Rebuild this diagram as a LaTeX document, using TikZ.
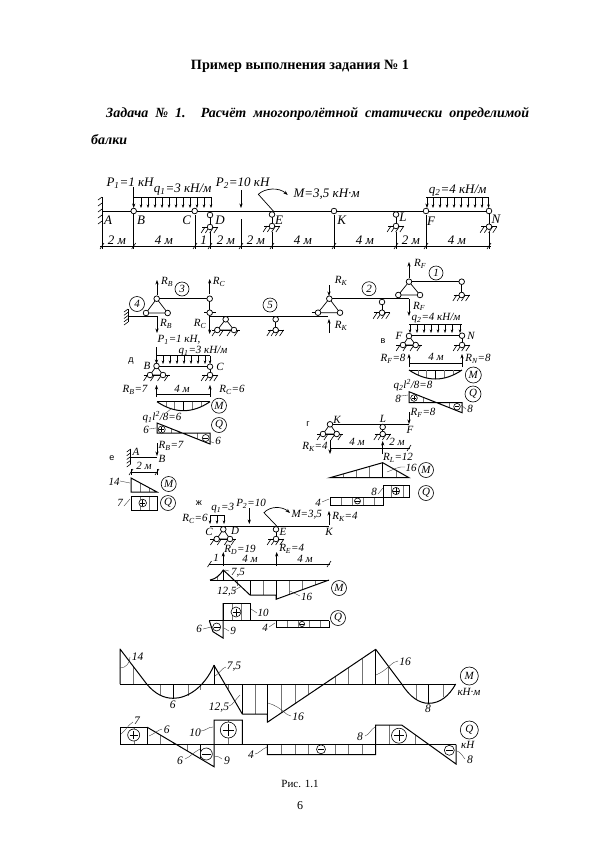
\documentclass[tikz,border=0pt]{standalone}
\usepackage{fontspec}
\setmainfont{Liberation Serif}
\newfontfamily\sansf{Liberation Sans}
\usetikzlibrary{arrows.meta}
\newcommand\sbs[1]{\textsubscript{#1}}
\tikzset{
  lbl/.style={font=\fontsize{13}{13}\selectfont\itshape,inner sep=0pt},
  bot/.style={font=\fontsize{11.5}{12}\selectfont\itshape,inner sep=0pt},
  sml/.style={font=\fontsize{11}{11}\selectfont\itshape,inner sep=0pt},
  zone/.style={font=\fontsize{9}{10}\selectfont\sansf,inner sep=0pt},
  hingept/.style={circle,draw,fill=white,minimum size=5.6pt,inner sep=0pt,line width=.75pt},
  beamline/.style={line width=1pt},
  thinl/.style={line width=.6pt},
  hch/.style={line width=.35pt,black!55},
  lead/.style={line width=.35pt,black!80},
  arr/.style={line width=.65pt,-{Stealth[length=4.5pt,width=3.2pt]}},
  qarr/.style={line width=.55pt,-{Stealth[length=3.5pt,width=2.6pt]}},
  cname/.style={circle,draw,line width=.6pt,minimum size=#1,inner sep=0pt,font=\fontsize{11}{11}\selectfont\itshape},
  cname/.default=15pt
}
% hinge
\newcommand\hng[2]{\node[hingept] at (#1,#2) {};}
% ground line with slashes
\newcommand\grd[3]{\draw[thinl] ({#1-#3},#2)--({#1+#3},#2);
  \foreach \k in {-.8,-.27,.27,.8}{\draw[thinl] ({#1+\k*#3+1.5},#2)--({#1+\k*#3-2.5},{#2+6});}}
% roller support
\newcommand\rol[3]{\draw[thinl] (#1,#2)--(#1,#3);\grd{#1}{#3}{8}\hng{#1}{#2}\hng{#1}{#3}}
% triangle of hinges
\newcommand\trg[5]{\draw[thinl,line width=.7pt] (#1,#2)--(#3,#5)--(#4,#5)--cycle;\hng{#1}{#2}\hng{#3}{#5}\hng{#4}{#5}}
% tick on a dimension line
\newcommand\dmt[2]{\draw[thinl] ({#1-2},{#2+3})--({#1+2},{#2-3});}
% parabola with hatching
\newcommand\para[4]{\draw[beamline] (#1,#3)--(#2,#3);
  \foreach \t in {.17,.33,.67,.83}{\pgfmathsetmacro\yy{#3+4*#4*\t*(1-\t)}\draw[hch] ({#1+(#2-#1)*\t},#3)--({#1+(#2-#1)*\t},\yy);}
  \draw[thinl] ({(#1+#2)/2},#3)--({(#1+#2)/2},{#3+#4});
  \draw[beamline] (#1,#3) .. controls ({#1+(#2-#1)/3},{#3+4*#4/3}) and ({#2-(#2-#1)/3},{#3+4*#4/3}) .. (#2,#3);}
% hatching under a straight edge
\newcommand\hl[6]{\foreach \xx in {#6}{\pgfmathsetmacro\yy{#2+(\xx-#1)*(#4-#2)/(#3-#1)}\draw[hch] (\xx,#5)--(\xx,\yy);}}
% signs
\newcommand\plc[3]{\draw[thinl,fill=white] (#1,#2) circle (#3);\draw[thinl] ({#1-#3*.7},#2)--({#1+#3*.7},#2) (#1,{#2-#3*.7})--(#1,{#2+#3*.7});}
\newcommand\mic[3]{\draw[thinl,fill=white] (#1,#2) circle (#3);\draw[thinl] ({#1-#3*.7},#2)--({#1+#3*.7},#2);}
% wall
\newcommand\wal[4]{\draw[beamline] (#1,#2)--(#1,#3);\foreach \yy in {0,.25,.5,.75,1}{\draw[thinl] (#1,{#2+(#3-#2)*\yy})--({#1-4*#4},{#2+(#3-#2)*\yy+3});}}
\begin{document}
\begin{tikzpicture}[x=1pt,y=-1pt]
\useasboundingbox (0,0) rectangle (600,849);
\fill[white] (0,0) rectangle (600,849);
% ---------- heading
\node[inner sep=0pt] (title) at (300,66) {\fontsize{14.2}{14}\selectfont\bfseries Пример выполнения задания № 1};
\node[inner sep=0pt,anchor=base west] (task1) at (106,117) {\fontsize{14}{14}\selectfont\bfseries\itshape\makebox[423pt][s]{Задача № 1. Расчёт многопролётной статически определимой}};
\node[inner sep=0pt,anchor=base west] (task2) at (91,144) {\fontsize{14}{14}\selectfont\bfseries\itshape балки};
\node[inner sep=0pt] (cap) at (300,784) {\fontsize{11}{11}\selectfont Рис. 1.1};
\node[inner sep=0pt] (pg) at (300,806) {\fontsize{12}{12}\selectfont 6};
% ---------- main beam
\wal{102}{197}{221}{1}
\draw[thinl] (102,221)--(102,249) (133.7,211)--(133.7,249) (195,215)--(195,249) (210,232)--(210,249) (241,219)--(241,249) (272,232)--(272,249) (334,215)--(334,249) (396,232)--(396,249) (426,215)--(426,249) (489,232)--(489,249);
\draw[thinl] (100,246)--(491,246);
\foreach \x in {102,133.7,195,210,241,272,334,396,426,489}{\dmt{\x}{246}}
\draw[beamline] (102,211)--(489,211);
\draw[thinl] (133.7,197.7)--(211.7,197.7) (426,197.7)--(489,197.7);
\foreach \x in {141,148,155,162,169,176,183,190,197,204,211}{\draw[qarr] (\x,197.7)--(\x,208);}
\foreach \x in {433,440,447,454,461,468,475,482,488.5}{\draw[qarr] (\x,197.7)--(\x,208);}
\draw[arr] (133.7,187)--(133.7,208);
\draw[arr] (241,190)--(241,208);
\draw[arr] (427,197.7)--(427,208);
\draw[arr,line width=.7pt] (273.3,211)--(258.3,194.3) .. controls (265,188) and (279,187) .. (287.7,195);
\rol{210}{215}{227}\rol{272}{214.5}{226}\rol{396}{214.5}{226}\rol{489}{211}{226.7}
\hng{133.7}{211}\hng{194.7}{211}\hng{334}{211}\hng{426}{211}
\node[lbl] (p1) at (130,183) {P\sbs{1}=1 кН};
\node[lbl] (q1) at (182.7,190) {q\sbs{1}=3 кН/м};
\node[lbl] (p2) at (242.7,183) {P\sbs{2}=10 кН};
\node[lbl] (mm) at (326.7,194) {M=3,5 кН·м};
\node[lbl] (q2) at (457.7,190.7) {q\sbs{2}=4 кН/м};
\foreach \t/\x/\y in {A/108/220,B/141/220,C/186.7/220,D/220/220,E/279/220,K/341.7/220,L/403/217,F/431/221,N/496/219}{\node[lbl] at (\x,\y) {\t};}
\foreach \t/\x in {2 м/117,4 м/164,1/203.5,2 м/226,2 м/256,4 м/303,4 м/365,2 м/411,4 м/457}{\node[lbl] at (\x,240) {\t};}
% ---------- floor diagram
\wal{128}{309}{322}{1}
\draw[beamline] (128,316)--(157,316);
\draw[beamline] (157,298.7)--(209.7,298.7);
\trg{156.7}{298.7}{146}{167.7}{313}
\draw[thinl] (209.7,298.7)--(209.7,312.7);
\draw[thinl] (204,312.7)--(216,312.7);
\hng{209.7}{298.7}\hng{209.7}{312.7}
\draw[beamline] (209.7,316)--(328,316);
\draw[thinl] (311.7,312.7)--(318,312.7);
\draw[arr] (157,295)--(157,280);
\draw[arr] (157,316)--(157,333);
\draw[arr] (209.7,294)--(209.7,279);
\draw[arr] (209.7,316)--(209.7,334);
\node[sml] at (167,282) {R\sbs{B}};
\node[sml] at (166,324) {R\sbs{B}};
\node[sml] at (219,282) {R\sbs{C}};
\node[sml] at (200,324) {R\sbs{C}};
\node[cname=14pt] (c3) at (182,289) {3};
\node[cname=15pt] (c4) at (137,304) {4};
\node[cname=14pt] (c5) at (270,305) {5};
\grd{225.7}{330}{14}
\trg{225.7}{319.3}{217.3}{234}{330}
\rol{275.7}{319.3}{330}
\draw[beamline] (329,298.7)--(409,298.7);
\trg{329.3}{298.7}{318}{340}{312.7}
\draw[arr] (329,285)--(329,296);
\draw[arr] (329,333)--(329,319);
\node[sml] at (341,281) {R\sbs{K}};
\node[sml] at (341,326) {R\sbs{K}};
\rol{382}{302}{312.7}
\node[cname=14pt] (c2) at (369,288.7) {2};
\draw[beamline] (409,281.7)--(461.7,281.7);
\trg{409}{281.7}{398.3}{420}{295}
\rol{461.7}{281.7}{295}
\draw[arr] (409,278)--(409,262);
\draw[arr] (409,299)--(409,316);
\node[sml] at (420,264) {R\sbs{F}};
\node[sml] at (419,306.5) {R\sbs{F}};
\node[cname=14pt] (c1) at (436,273) {1};
% ---------- span BC (д)
\node[zone] at (131,361) {д};
\node[sml] at (179,340) {P\sbs{1}=1 кН,};
\draw[thinl] (156.5,355.7)--(210,355.7);
\foreach \x in {163,170,177,184,191,198,205,210}{\draw[qarr] (\x,355.7)--(\x,364);}
\draw[arr] (156.5,347)--(156.5,364);
\draw[beamline] (156.5,366.7)--(210,366.7);
\grd{156.5}{375}{13}
\trg{156.5}{366}{150}{163}{375}
\rol{210}{366.7}{375}
\node[sml] (q1b) at (203,351.5) {q\sbs{1}=3 кН/м};
\node[sml] at (147,366) {B}; \node[sml] at (220,367) {C};
\draw[thinl] (156.5,394)--(210,394);
\draw[arr] (156.5,397)--(156.5,385);
\draw[arr] (210,397)--(210,385);
\node[sml] at (135,390) {R\sbs{B}=7};
\node[sml] at (232,390) {R\sbs{C}=6};
\node[sml] at (182,389) {4 м};
\para{157}{210}{401.7}{9}
\node[cname=15pt] at (219,405.7) {M};
\node[sml] at (162,417) {q\sbs{1}l\textsuperscript{2}/8=6};
\draw[lead] (166,413) -- (172,408);
\hl{157}{423}{210}{444}{433}{171,184,197}
\draw[beamline] (157,433)--(157,423)--(210,444)--(210,433)--cycle;
\plc{161.7}{429.5}{3.5}\mic{205.7}{438}{3.5}
\node[sml] at (146,430) {6}; \node[sml] at (218,441) {6};
\draw[lead] (149,429) -- (156,428) (209,441) -- (214,443);
\node[cname=15pt] at (219,425) {Q};
% ---------- span AB (е)
\node[zone] at (112,458) {е};
\wal{130.7}{449}{464}{1}
\draw[beamline] (130.7,457)--(157,457);
\draw[arr] (157,443)--(157,456);
\node[sml] at (136,452) {A}; \node[sml] at (162,459) {B};
\node[sml] at (171,446) {R\sbs{B}=7};
\draw[thinl] (131,469)--(131,475) (157,469)--(157,475) (131,472)--(158,472);
\dmt{131}{472}\dmt{157}{472}
\node[sml] at (144,466) {2 м};
\hl{131}{478}{157}{492}{492}{140,149}
\draw[beamline] (131,478)--(131,492)--(157,492)--cycle;
\node[sml] at (114,482) {14};
\draw[lead] (120,481) -- (130,483);
\node[cname=15pt] at (168.7,484) {M};
\draw[hch] (140,496)--(140,510) (149,496)--(149,510);
\draw[beamline] (131,496) rectangle (157,510);
\plc{142.7}{503}{3.8}
\node[sml] at (120,503) {7}; \draw[lead] (124,506) -- (130,499);
\node[cname=15pt] at (168,503) {Q};
% ---------- span FN (в)
\node[zone] at (383,341) {в};
\node[sml] at (436,318.5) {q\sbs{2}=4 кН/м};
\draw[thinl] (409,324.7)--(462,324.7);
\foreach \x in {410,417,424,431,438,445,452,460}{\draw[qarr] (\x,324.7)--(\x,333);}
\draw[beamline] (409,335.7)--(462,335.7);
\grd{409}{345}{13}
\trg{409}{336}{403}{415.7}{345}
\rol{462}{335.7}{345}
\node[sml] at (399,336) {F}; \node[sml] at (471,336) {N};
\draw[thinl] (409,363)--(462,363);
\draw[arr] (409,367)--(409,354);
\draw[arr] (462,367)--(462,354);
\node[sml] at (393,359) {R\sbs{F}=8};
\node[sml] at (478,359) {R\sbs{N}=8};
\node[sml] at (436,357) {4 м};
\para{409}{462}{370}{9}
\node[cname=16pt] at (473.3,375) {M};
\node[sml] at (413,385) {q\sbs{2}l\textsuperscript{2}/8=8};
\hl{409}{391.7}{462}{412.7}{402.7}{423,436,449}
\draw[beamline] (409,402.7)--(409,391.7)--(462,412.7)--(462,402.7)--cycle;
\plc{414}{398}{3.3}\mic{457}{406.7}{3.3}
\node[sml] at (398,399) {8}; \node[sml] at (470,409) {8};
\draw[lead] (401,396) -- (408,395) (461,405) -- (466,409);
\node[cname=16pt] at (473,394) {Q};
% ---------- span KF (г)
\node[zone] at (308,424) {г};
\draw[beamline] (330,424.5)--(409,424.5);
\grd{330}{434}{13}
\trg{330}{424.3}{323}{336.7}{434}
\rol{382.7}{427}{434}
\draw[arr] (409,412)--(409,424);
\node[sml] at (423,413) {R\sbs{F}=8};
\node[sml] at (410,430) {F}; \node[sml] at (337,420) {K}; \node[sml] at (383,419) {L};
\draw[thinl] (330,448)--(410,448); \dmt{409}{448}
\draw[arr] (330,440)--(330,454);
\draw[arr] (382.7,454)--(382.7,441);
\node[sml] at (315,447) {R\sbs{K}=4};
\node[sml] at (357,442) {4 м}; \node[sml] at (397,442) {2 м};
\node[sml] at (398,458) {R\sbs{L}=12};
\hl{330}{477.7}{382.7}{462.7}{477.7}{343,356,369}
\hl{382.7}{462.7}{409}{477.7}{477.7}{396}
\draw[thinl] (382.7,462.7)--(382.7,477.7);
\draw[beamline] (330,477.7)--(382.7,462.7)--(409,477.7)--cycle;
\node[sml] at (411,468) {16};
\draw[lead] (405,467) .. controls (398,466) and (393,470) .. (387,472);
\node[cname=15pt] at (426,470) {M};
\foreach \x in {341,352,363,374}{\draw[hch] (\x,497.7)--(\x,505);}
\foreach \x in {391,403}{\draw[hch] (\x,485)--(\x,497.7);}
\draw[beamline] (330,497.7) rectangle (383,505);
\draw[beamline] (383,485) rectangle (409,497.7);
\mic{357.5}{501}{3}\plc{396}{491}{3.6}
\node[sml] at (374,492) {8}; \node[sml] at (318,503) {4};
\draw[lead] (378,494) -- (383,488) (322,502) -- (329,499);
\node[cname=15pt] at (426,493) {Q};
% ---------- span CK (ж)
\node[zone] at (199,503) {ж};
\node[sml] at (222.7,508) {q\sbs{1}=3};
\node[sml] at (251,504) {P\sbs{2}=10};
\node[sml] at (195,519) {R\sbs{C}=6};
\draw[thinl] (210,515)--(224,515);
\foreach \x in {210,217,224}{\draw[qarr] (\x,515)--(\x,524);}
\draw[arr] (249.3,508)--(249.3,524);
\draw[beamline] (210,526.7)--(329,526.7);
\grd{223.3}{539}{13}
\trg{223.3}{529.3}{216.7}{230}{539}
\rol{276}{529.3}{539}
\node[sml] at (209,532) {C}; \node[sml] at (235,531) {D}; \node[sml] at (283,532) {E}; \node[sml] at (329,532) {K};
\draw[arr,line width=.7pt] (276.7,526)--(264,512.7) .. controls (270,506) and (282,506) .. (290,513);
\node[sml] at (306.7,515) {M=3,5};
\draw[arr] (329,525)--(329,511);
\node[sml] at (345,517) {R\sbs{K}=4};
\node[sml] at (240,550) {R\sbs{D}=19};
\node[sml] at (291.7,549) {R\sbs{E}=4};
\draw[thinl] (209,564)--(330,564); \dmt{209.5}{564}\dmt{329}{564}
\draw[arr] (223.3,566)--(223.3,552);
\draw[arr] (276.7,566)--(276.7,552);
\node[sml] at (216,558) {1}; \node[sml] at (250,559) {4 м}; \node[sml] at (305,559) {4 м};
\draw[hch] (217,580)--(217,576) (237,580)--(237,586) (263,580)--(263,595) (289,580)--(289,595) (302,580)--(302,590) (315,580)--(315,585);
\draw[thinl] (223.3,570)--(223.3,580);
\draw[thinl] (250,580)--(250,595) (276,580)--(276,599.3);
\draw[beamline] (210,580)--(329,580);
\draw[beamline] (210,580) .. controls (216,579) and (220,575) .. (223.3,570)--(250,595)--(276,595)--(276,599.3)--(329,580);
\node[sml] at (238,573) {7,5}; \node[sml] at (226.7,592) {12,5}; \node[sml] at (306.7,597) {16};
\draw[lead] (229,571) -- (225,570) (233,591) -- (240,587) (300,596) -- (290,591);
\node[cname=15pt] at (339,588) {M};
\foreach \x in {232,241}{\draw[hch] (\x,603)--(\x,620.7);}
\foreach \x in {287,298,309,320}{\draw[hch] (\x,620.7)--(\x,627);}
\draw[beamline] (209.3,620.7)--(329,620.7);
\draw[beamline] (223,603) rectangle (250,620.7);
\draw[beamline] (209.3,620.7)--(213,631.7)--(223,638)--(223,603);
\draw[beamline] (276,620.7)--(276,627)--(329,627)--(329,620.7);
\plc{236}{612}{5}\mic{216.7}{627}{4}\mic{302}{624}{2.6}
\node[sml] at (263,613) {10}; \node[sml] at (199,629) {6}; \node[sml] at (233,631) {9}; \node[sml] at (265,628) {4};
\draw[lead] (251,609) -- (257,613) (203,629) -- (211,627) (224,628) -- (229,631) (269,627) -- (275,623);
\node[cname=15pt] at (338,618) {Q};
% ---------- final M
\hl{120}{649}{146.7}{684}{684}{133}
\foreach \x/\y in {160/695,187.7/696,200/690}{\draw[hch] (\x,684)--(\x,\y);}
\hl{214}{665.3}{242.3}{714}{684}{228}
\draw[thinl] (214,684)--(214,665.3) (173.3,684)--(173.3,698.3) (242.3,684)--(242.3,714) (267.3,684)--(267.3,722.3) (375.7,684)--(375.7,649.3) (428.7,684)--(428.7,703.3);
\draw[hch] (255.5,684)--(255.5,714);
\hl{267.3}{722.3}{375.7}{649.3}{684}{281.5,295,308,335,348,362}
\hl{375.7}{649.3}{401.7}{684}{684}{388}
\foreach \x/\y in {415.7/699,442.7/697}{\draw[hch] (\x,684)--(\x,\y);}
\draw[beamline] (120,684)--(455.7,684);
\draw[beamline,line join=round] (120,684)--(120,649)--(146.7,684) .. controls (155,694) and (164,698.3) .. (173.3,698.3) .. controls (187,698.3) and (204,688) .. (214,665.3)--(242.3,714)--(267.3,714)--(267.3,722.3)--(375.7,649.3)--(401.7,684) .. controls (410,697) and (419,703.3) .. (428.7,703.3) .. controls (440,703.3) and (449,696) .. (455.7,684);
\node[bot] at (137.7,656.7) {14}; \node[bot] at (172.7,705) {6}; \node[bot] at (234,667) {7,5};
\node[bot] at (219,708) {12,5}; \node[bot] at (405,661.7) {16}; \node[bot] at (298,717) {16}; \node[bot] at (428,709) {8};
\draw[lead] (130,657) .. controls (130,663) and (126,668) .. (120,668);
\draw[lead] (226,667) .. controls (222,668) and (220,673) .. (215,676);
\draw[lead] (229,706) .. controls (233,705) and (235,700) .. (240,695);
\draw[lead] (398,661) .. controls (392,661) and (388,670) .. (376,675);
\draw[lead] (291,716) .. controls (286,716) and (282,707) .. (268,703);
\node[cname=18pt] at (469.3,676) {M};
\node[sml] at (469,692) {кН·м};
% ---------- final Q
\foreach \x in {133.7}{\draw[hch] (\x,727.3)--(\x,744.7);}
\hl{147.3}{727.3}{214}{766.7}{744.7}{160,173,187}
\draw[hch] (228,720)--(228,744.7);
\foreach \x in {281,295,308,321,335,348,362}{\draw[hch] (\x,744.7)--(\x,754.7);}
\draw[hch] (389,725)--(389,744.7);
\hl{401.7}{725}{456}{764}{744.7}{415}
\draw[thinl] (200.7,744.7)--(200.7,758);
\draw[beamline] (120,744.7)--(456,744.7);
\draw[beamline] (120,744.7)--(120,727.3)--(147.3,727.3)--(147.3,744.7);
\draw[beamline] (147.3,727.3)--(214,766.7)--(214,720)--(242.3,720)--(242.3,744.7);
\draw[beamline] (267.3,744.7)--(267.3,754.7)--(375.7,754.7)--(375.7,725)--(401.7,725)--(456,764)--(456,744.7);
\plc{133.7}{735}{6}\plc{228.3}{730}{8}\plc{399}{735.7}{7.5}
\mic{206.3}{754}{6}\mic{321}{749.3}{4.5}\mic{449.3}{750.3}{5}
\node[bot] at (137,721) {7}; \node[bot] at (166.7,729.7) {6}; \node[bot] at (195,733) {10};
\node[bot] at (180,761) {6}; \node[bot] at (227,761) {9}; \node[bot] at (251,755) {4};
\node[bot] at (360,737) {8}; \node[bot] at (470,760) {8};
\draw[lead] (133,722) .. controls (128,725) and (126,730) .. (121,734);
\draw[lead] (162,729) .. controls (158,730) and (154,734) .. (149,736);
\draw[lead] (201,731) .. controls (205,731) and (208,727) .. (213,727);
\draw[lead] (185,759) .. controls (190,757) and (194,752) .. (200,749);
\draw[lead] (222,759) .. controls (220,758) and (218,755) .. (214,757);
\draw[lead] (255,754) .. controls (258,754) and (262,749) .. (267,747);
\draw[lead] (365,736) .. controls (369,735) and (371,729) .. (375,727);
\draw[lead] (465,759) .. controls (463,757) and (461,752) .. (457,751);
\node[cname=18pt] at (469.3,730) {Q};
\node[sml] at (467.7,745) {кН};
\end{tikzpicture}
\end{document}
